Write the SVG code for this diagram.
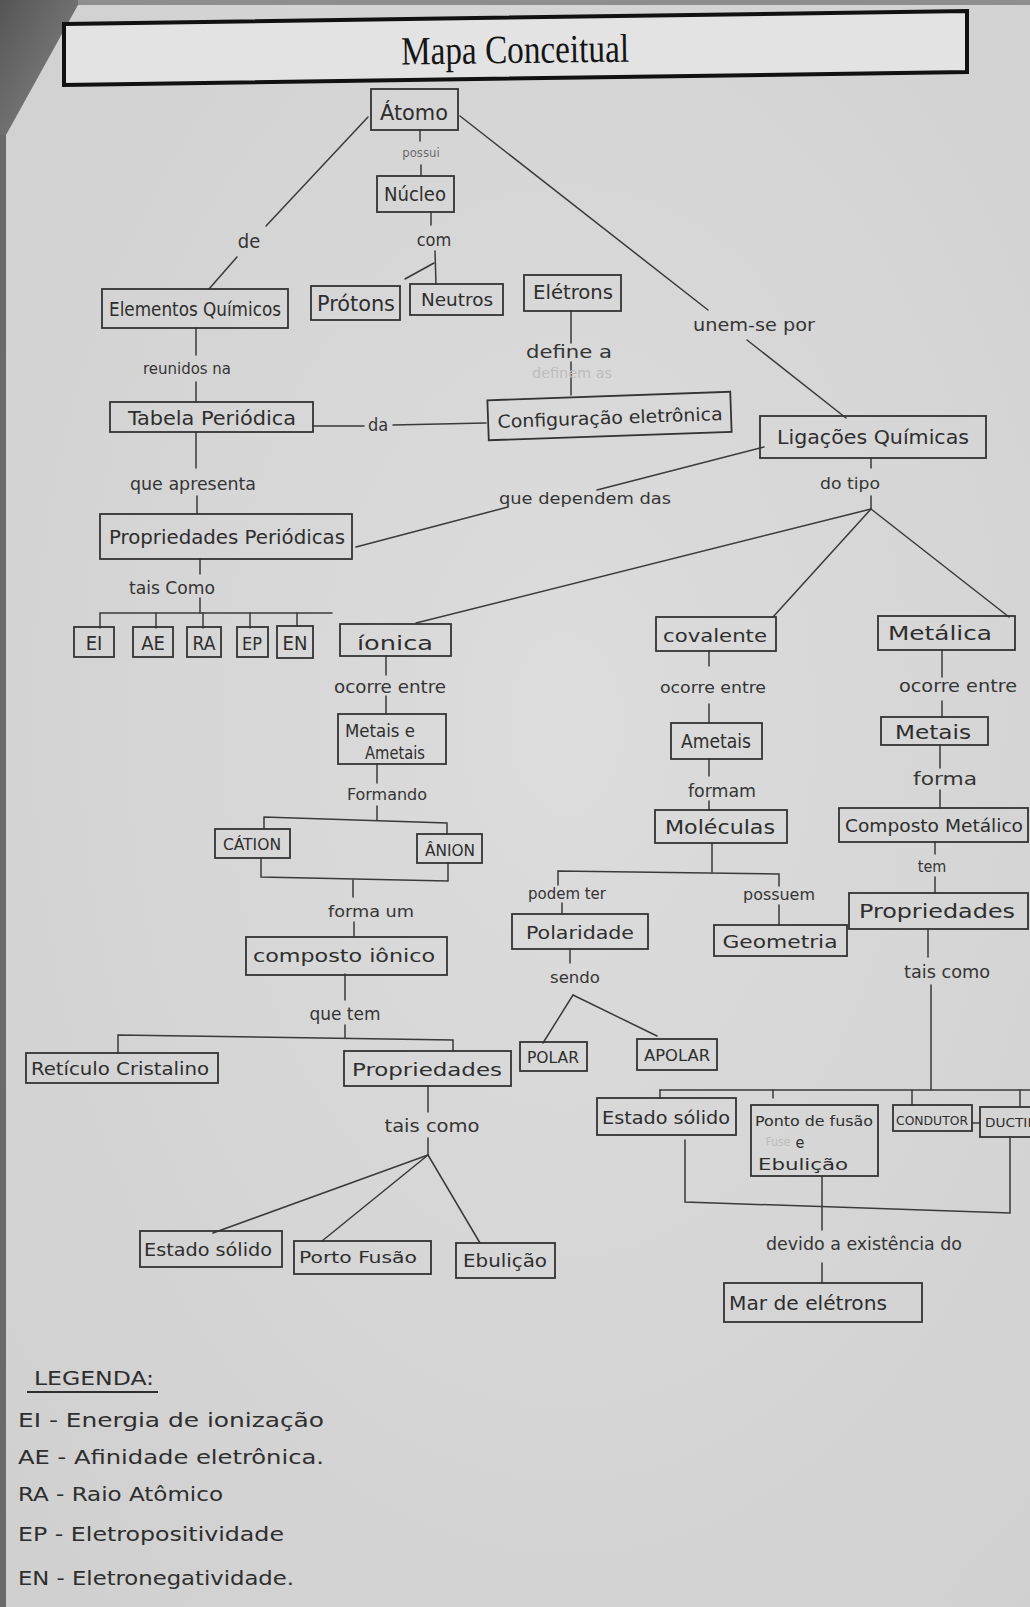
<svg xmlns="http://www.w3.org/2000/svg" width="1030" height="1607" viewBox="0 0 1030 1607">
  <defs>
    <radialGradient id="paper" cx="0.55" cy="0.45" r="0.8">
      <stop offset="0" stop-color="#dcdcdc"/>
      <stop offset="1" stop-color="#cfcfcf"/>
    </radialGradient>
    <linearGradient id="shadow" x1="0" y1="0" x2="1" y2="1">
      <stop offset="0" stop-color="#555"/>
      <stop offset="1" stop-color="#8a8a8a"/>
    </linearGradient>
    <style>
      .box { fill: none; stroke: #333; stroke-width: 1.8; }
      .ln { fill: none; stroke: #3a3a3a; stroke-width: 1.5; stroke-linecap: round; }
      .t { font-family: "Liberation Sans Narrow", "DejaVu Sans Condensed", "Liberation Sans", sans-serif; fill: #2e2e2e; text-anchor: middle; }
      .lb { font-family: "Liberation Sans Narrow", "DejaVu Sans Condensed", "Liberation Sans", sans-serif; fill: #353535; text-anchor: middle; }
      .ghost { font-family: "Liberation Sans Narrow", "DejaVu Sans Condensed", "Liberation Sans", sans-serif; fill: #bdbdbd; text-anchor: middle; }
      .leg { font-family: "Liberation Sans Narrow", "DejaVu Sans Condensed", "Liberation Sans", sans-serif; fill: #2e2e2e; font-size: 20px; }
    </style>
  </defs>

  <!-- paper sheet and the photographed background round it -->
  <rect x="0" y="0" width="1030" height="1607" fill="url(#paper)"/>
  <rect x="0" y="0" width="1030" height="5" fill="#8e8e8e"/>
  <polygon points="0,0 78,0 78,5 6,135 0,140" fill="url(#shadow)"/>
  <rect x="0" y="135" width="6" height="1472" fill="#6a6a6a"/>

  <!-- title banner -->
  <g id="title">
    <polygon points="64,24 967,11 967,72 64,85" fill="#e3e3e3" stroke="#111" stroke-width="4"/>
    <text x="515" y="63" font-family="Liberation Serif, serif" font-size="40" fill="#151515" text-anchor="middle" textLength="228" lengthAdjust="spacingAndGlyphs" transform="rotate(-0.7 515 50)">Mapa Conceitual</text>
  </g>

  <!-- connectors -->
  <g id="connectors">
    <!-- Átomo branches -->
    <line class="ln" x1="368" y1="117" x2="266" y2="226"/>
    <line class="ln" x1="237" y1="257" x2="209" y2="289"/>
    <line class="ln" x1="420" y1="130" x2="420" y2="141"/>
    <line class="ln" x1="421" y1="165" x2="421" y2="176"/>
    <line class="ln" x1="460" y1="116" x2="708" y2="310"/>
    <line class="ln" x1="747" y1="340" x2="846" y2="418"/>
    <!-- Núcleo to Prótons / Neutros -->
    <line class="ln" x1="431" y1="212" x2="431" y2="225"/>
    <line class="ln" x1="435" y1="251" x2="436" y2="284"/>
    <line class="ln" x1="434" y1="263" x2="405" y2="279"/>
    <!-- Elementos / Tabela / Propriedades Periódicas -->
    <line class="ln" x1="196" y1="328" x2="196" y2="355"/>
    <line class="ln" x1="196" y1="382" x2="196" y2="402"/>
    <line class="ln" x1="196" y1="432" x2="196" y2="468"/>
    <line class="ln" x1="197" y1="496" x2="197" y2="514"/>
    <line class="ln" x1="313" y1="426" x2="364" y2="426"/>
    <line class="ln" x1="393" y1="425" x2="486" y2="423"/>
    <line class="ln" x1="571" y1="311" x2="571" y2="343"/>
    <line class="ln" x1="571" y1="362" x2="571" y2="395"/>
    <line class="ln" x1="764" y1="447" x2="597" y2="490"/>
    <line class="ln" x1="508" y1="507" x2="356" y2="547"/>
    <!-- tais como bracket for EI..EN -->
    <line class="ln" x1="200" y1="559" x2="200" y2="574"/>
    <line class="ln" x1="200" y1="598" x2="200" y2="613"/>
    <polyline class="ln" points="100,628 100,613 332,613"/>
    <line class="ln" x1="156" y1="613" x2="156" y2="628"/>
    <line class="ln" x1="203" y1="613" x2="203" y2="628"/>
    <line class="ln" x1="250" y1="613" x2="250" y2="628"/>
    <line class="ln" x1="297" y1="613" x2="297" y2="626"/>
    <!-- Ligações: do tipo -->
    <line class="ln" x1="871" y1="458" x2="871" y2="468"/>
    <line class="ln" x1="871" y1="496" x2="871" y2="509"/>
    <line class="ln" x1="871" y1="509" x2="416" y2="623" stroke-width="1.8"/>
    <line class="ln" x1="871" y1="509" x2="773" y2="617"/>
    <line class="ln" x1="871" y1="509" x2="1009" y2="617"/>
    <!-- ionic column -->
    <line class="ln" x1="386" y1="656" x2="386" y2="675"/>
    <line class="ln" x1="386" y1="696" x2="386" y2="714"/>
    <line class="ln" x1="377" y1="764" x2="377" y2="783"/>
    <line class="ln" x1="377" y1="806" x2="377" y2="820"/>
    <polyline class="ln" points="264,829 264,817 447,823 447,834"/>
    <polyline class="ln" points="261,858 261,877 448,881 448,863"/>
    <line class="ln" x1="353" y1="880" x2="353" y2="897"/>
    <line class="ln" x1="354" y1="922" x2="354" y2="936"/>
    <line class="ln" x1="345" y1="974" x2="345" y2="1000"/>
    <line class="ln" x1="345" y1="1025" x2="345" y2="1038"/>
    <polyline class="ln" points="118,1053 118,1035 453,1040 453,1051"/>
    <line class="ln" x1="428" y1="1086" x2="428" y2="1112"/>
    <line class="ln" x1="428" y1="1138" x2="428" y2="1155"/>
    <line class="ln" x1="428" y1="1155" x2="213" y2="1233"/>
    <line class="ln" x1="428" y1="1155" x2="322" y2="1241"/>
    <line class="ln" x1="428" y1="1155" x2="480" y2="1243"/>
    <!-- covalent column -->
    <line class="ln" x1="709" y1="651" x2="709" y2="666"/>
    <line class="ln" x1="709" y1="704" x2="709" y2="723"/>
    <line class="ln" x1="709" y1="759" x2="709" y2="776"/>
    <line class="ln" x1="709" y1="801" x2="709" y2="810"/>
    <line class="ln" x1="712" y1="843" x2="712" y2="872"/>
    <polyline class="ln" points="558,885 558,871 779,874 779,886"/>
    <line class="ln" x1="562" y1="903" x2="562" y2="914"/>
    <line class="ln" x1="779" y1="905" x2="779" y2="925"/>
    <line class="ln" x1="570" y1="949" x2="570" y2="963"/>
    <line class="ln" x1="573" y1="995" x2="543" y2="1043"/>
    <line class="ln" x1="573" y1="995" x2="657" y2="1036"/>
    <!-- metallic column -->
    <line class="ln" x1="942" y1="650" x2="942" y2="677"/>
    <line class="ln" x1="942" y1="701" x2="942" y2="717"/>
    <line class="ln" x1="940" y1="745" x2="940" y2="768"/>
    <line class="ln" x1="940" y1="790" x2="940" y2="808"/>
    <line class="ln" x1="935" y1="842" x2="935" y2="854"/>
    <line class="ln" x1="935" y1="877" x2="935" y2="893"/>
    <line class="ln" x1="928" y1="929" x2="928" y2="957"/>
    <line class="ln" x1="931" y1="985" x2="931" y2="1090"/>
    <line class="ln" x1="660" y1="1090" x2="1030" y2="1090"/>
    <line class="ln" x1="660" y1="1090" x2="660" y2="1098"/>
    <line class="ln" x1="773" y1="1090" x2="773" y2="1098"/>
    <line class="ln" x1="912" y1="1090" x2="912" y2="1105"/>
    <line class="ln" x1="1020" y1="1090" x2="1020" y2="1107"/>
    <line class="ln" x1="972" y1="1123" x2="980" y2="1123"/>
    <polyline class="ln" points="685,1140 685,1202 1010,1213 1010,1138"/>
    <line class="ln" x1="822" y1="1176" x2="822" y2="1230"/>
    <line class="ln" x1="822" y1="1263" x2="822" y2="1283"/>
  </g>

  <!-- concept nodes -->
  <g id="atomo">
    <rect class="box" x="371" y="89" width="87" height="41"/>
    <text class="t" x="414" y="120" font-size="22" textLength="68" lengthAdjust="spacingAndGlyphs">Átomo</text>
  </g>
  <text class="lb" x="421" y="157" font-size="13" fill-opacity="0.7">possui</text>

  <g id="nucleo">
    <rect class="box" x="377" y="176" width="77" height="36"/>
    <text class="t" x="415" y="201" font-size="20" textLength="62" lengthAdjust="spacingAndGlyphs">Núcleo</text>
  </g>
  <text class="lb" x="434" y="246" font-size="18">com</text>
  <text class="lb" x="249" y="248" font-size="20">de</text>
  <text class="lb" x="754" y="331" font-size="17" textLength="122" lengthAdjust="spacingAndGlyphs">unem-se por</text>

  <g id="elementos">
    <rect class="box" x="102" y="289" width="186" height="39"/>
    <text class="t" x="195" y="316" font-size="19" textLength="172" lengthAdjust="spacingAndGlyphs">Elementos Químicos</text>
  </g>
  <g id="protons">
    <rect class="box" x="311" y="286" width="89" height="34"/>
    <text class="t" x="356" y="311" font-size="21" textLength="78" lengthAdjust="spacingAndGlyphs">Prótons</text>
  </g>
  <g id="neutros">
    <rect class="box" x="410" y="284" width="93" height="31"/>
    <text class="t" x="457" y="306" font-size="18" textLength="72" lengthAdjust="spacingAndGlyphs">Neutros</text>
  </g>
  <g id="eletrons">
    <rect class="box" x="524" y="275" width="97" height="36"/>
    <text class="t" x="573" y="299" font-size="20" textLength="80" lengthAdjust="spacingAndGlyphs">Elétrons</text>
  </g>

  <text class="lb" x="187" y="374" font-size="16" textLength="88" lengthAdjust="spacingAndGlyphs">reunidos na</text>
  <text class="lb" x="569" y="358" font-size="18" textLength="86" lengthAdjust="spacingAndGlyphs">define a</text>
  <text class="ghost" x="572" y="378" font-size="14" textLength="80" lengthAdjust="spacingAndGlyphs">definem as</text>

  <g id="tabela">
    <rect class="box" x="110" y="402" width="203" height="30"/>
    <text class="t" x="212" y="425" font-size="19" textLength="168" lengthAdjust="spacingAndGlyphs">Tabela Periódica</text>
  </g>
  <text class="lb" x="378" y="431" font-size="18">da</text>

  <g id="configuracao" transform="rotate(-2 610 416)">
    <rect class="box" x="488" y="396" width="243" height="40"/>
    <text class="t" x="610" y="424" font-size="18" textLength="225" lengthAdjust="spacingAndGlyphs">Configuração eletrônica</text>
  </g>

  <g id="ligacoes">
    <rect class="box" x="760" y="416" width="226" height="42"/>
    <text class="t" x="873" y="444" font-size="19" textLength="192" lengthAdjust="spacingAndGlyphs">Ligações Químicas</text>
  </g>
  <text class="lb" x="850" y="489" font-size="16" textLength="60" lengthAdjust="spacingAndGlyphs">do tipo</text>

  <text class="lb" x="193" y="490" font-size="17" textLength="126" lengthAdjust="spacingAndGlyphs">que apresenta</text>
  <text class="lb" x="585" y="504" font-size="16" textLength="172" lengthAdjust="spacingAndGlyphs">que dependem das</text>

  <g id="propriedades-periodicas">
    <rect class="box" x="100" y="514" width="252" height="45"/>
    <text class="t" x="227" y="544" font-size="20" textLength="236" lengthAdjust="spacingAndGlyphs">Propriedades Periódicas</text>
  </g>
  <text class="lb" x="172" y="594" font-size="17" textLength="86" lengthAdjust="spacingAndGlyphs">tais Como</text>

  <g id="ei">
    <rect class="box" x="74" y="627" width="40" height="30"/>
    <text class="t" x="94" y="650" font-size="20">EI</text>
  </g>
  <g id="ae">
    <rect class="box" x="133" y="627" width="40" height="30"/>
    <text class="t" x="153" y="650" font-size="20">AE</text>
  </g>
  <g id="ra">
    <rect class="box" x="187" y="627" width="34" height="30"/>
    <text class="t" x="204" y="650" font-size="19">RA</text>
  </g>
  <g id="ep">
    <rect class="box" x="237" y="627" width="31" height="30"/>
    <text class="t" x="252" y="650" font-size="18">EP</text>
  </g>
  <g id="en">
    <rect class="box" x="277" y="626" width="36" height="32"/>
    <text class="t" x="295" y="650" font-size="20">EN</text>
  </g>

  <!-- ionic bond branch -->
  <g id="ionica">
    <rect class="box" x="340" y="624" width="111" height="32"/>
    <text class="t" x="395" y="650" font-size="20" textLength="76" lengthAdjust="spacingAndGlyphs">íonica</text>
  </g>
  <text class="lb" x="390" y="693" font-size="17" textLength="112" lengthAdjust="spacingAndGlyphs">ocorre entre</text>
  <g id="metais-ametais">
    <rect class="box" x="338" y="714" width="108" height="50"/>
    <text class="t" x="380" y="737" font-size="18" textLength="70" lengthAdjust="spacingAndGlyphs">Metais e</text>
    <text class="t" x="395" y="759" font-size="18" textLength="60" lengthAdjust="spacingAndGlyphs">Ametais</text>
  </g>
  <text class="lb" x="387" y="800" font-size="16" textLength="80" lengthAdjust="spacingAndGlyphs">Formando</text>
  <g id="cation">
    <rect class="box" x="215" y="829" width="75" height="29"/>
    <text class="t" x="252" y="850" font-size="15" textLength="58" lengthAdjust="spacingAndGlyphs">CÁTION</text>
  </g>
  <g id="anion">
    <rect class="box" x="417" y="834" width="65" height="29"/>
    <text class="t" x="450" y="856" font-size="15" textLength="50" lengthAdjust="spacingAndGlyphs">ÂNION</text>
  </g>
  <text class="lb" x="371" y="917" font-size="16" textLength="86" lengthAdjust="spacingAndGlyphs">forma um</text>
  <g id="composto-ionico">
    <rect class="box" x="246" y="937" width="201" height="38"/>
    <text class="t" x="344" y="962" font-size="18" textLength="182" lengthAdjust="spacingAndGlyphs">composto iônico</text>
  </g>
  <text class="lb" x="345" y="1020" font-size="17" textLength="71" lengthAdjust="spacingAndGlyphs">que tem</text>
  <g id="reticulo">
    <rect class="box" x="26" y="1053" width="192" height="30"/>
    <text class="t" x="120" y="1075" font-size="17" textLength="178" lengthAdjust="spacingAndGlyphs">Retículo Cristalino</text>
  </g>
  <g id="propriedades-ionico">
    <rect class="box" x="344" y="1051" width="167" height="35"/>
    <text class="t" x="427" y="1076" font-size="18" textLength="150" lengthAdjust="spacingAndGlyphs">Propriedades</text>
  </g>
  <text class="lb" x="432" y="1132" font-size="17" textLength="95" lengthAdjust="spacingAndGlyphs">tais como</text>
  <g id="estado-solido-ionico">
    <rect class="box" x="140" y="1231" width="142" height="36"/>
    <text class="t" x="208" y="1256" font-size="17" textLength="128" lengthAdjust="spacingAndGlyphs">Estado sólido</text>
  </g>
  <g id="porto-fusao">
    <rect class="box" x="294" y="1241" width="137" height="33"/>
    <text class="t" x="358" y="1263" font-size="15" textLength="118" lengthAdjust="spacingAndGlyphs">Porto Fusão</text>
  </g>
  <g id="ebulicao-ionico">
    <rect class="box" x="456" y="1243" width="99" height="35"/>
    <text class="t" x="505" y="1267" font-size="18" textLength="84" lengthAdjust="spacingAndGlyphs">Ebulição</text>
  </g>

  <!-- covalent bond branch -->
  <g id="covalente">
    <rect class="box" x="656" y="617" width="120" height="34"/>
    <text class="t" x="715" y="642" font-size="18" textLength="104" lengthAdjust="spacingAndGlyphs">covalente</text>
  </g>
  <text class="lb" x="713" y="693" font-size="16" textLength="106" lengthAdjust="spacingAndGlyphs">ocorre entre</text>
  <g id="ametais">
    <rect class="box" x="671" y="723" width="91" height="36"/>
    <text class="t" x="716" y="748" font-size="19" textLength="70" lengthAdjust="spacingAndGlyphs">Ametais</text>
  </g>
  <text class="lb" x="722" y="797" font-size="17" textLength="68" lengthAdjust="spacingAndGlyphs">formam</text>
  <g id="moleculas">
    <rect class="box" x="655" y="810" width="132" height="33"/>
    <text class="t" x="720" y="834" font-size="19" textLength="110" lengthAdjust="spacingAndGlyphs">Moléculas</text>
  </g>
  <text class="lb" x="567" y="899" font-size="15" textLength="78" lengthAdjust="spacingAndGlyphs">podem ter</text>
  <text class="lb" x="779" y="900" font-size="15" textLength="72" lengthAdjust="spacingAndGlyphs">possuem</text>
  <g id="polaridade">
    <rect class="box" x="512" y="914" width="136" height="35"/>
    <text class="t" x="580" y="939" font-size="18" textLength="108" lengthAdjust="spacingAndGlyphs">Polaridade</text>
  </g>
  <g id="geometria">
    <rect class="box" x="714" y="925" width="133" height="31"/>
    <text class="t" x="780" y="948" font-size="18" textLength="115" lengthAdjust="spacingAndGlyphs">Geometria</text>
  </g>
  <text class="lb" x="575" y="983" font-size="16" textLength="50" lengthAdjust="spacingAndGlyphs">sendo</text>
  <g id="polar">
    <rect class="box" x="520" y="1042" width="67" height="29"/>
    <text class="t" x="553" y="1063" font-size="15" textLength="52" lengthAdjust="spacingAndGlyphs">POLAR</text>
  </g>
  <g id="apolar">
    <rect class="box" x="637" y="1039" width="80" height="31"/>
    <text class="t" x="677" y="1061" font-size="15" textLength="66" lengthAdjust="spacingAndGlyphs">APOLAR</text>
  </g>

  <!-- metallic bond branch -->
  <g id="metalica">
    <rect class="box" x="878" y="616" width="137" height="34"/>
    <text class="t" x="940" y="640" font-size="20" textLength="104" lengthAdjust="spacingAndGlyphs">Metálica</text>
  </g>
  <text class="lb" x="958" y="692" font-size="17" textLength="118" lengthAdjust="spacingAndGlyphs">ocorre entre</text>
  <g id="metais">
    <rect class="box" x="881" y="717" width="107" height="28"/>
    <text class="t" x="933" y="739" font-size="19" textLength="76" lengthAdjust="spacingAndGlyphs">Metais</text>
  </g>
  <text class="lb" x="945" y="785" font-size="17" textLength="64" lengthAdjust="spacingAndGlyphs">forma</text>
  <g id="composto-metalico">
    <rect class="box" x="839" y="808" width="189" height="34"/>
    <text class="t" x="934" y="832" font-size="17" textLength="178" lengthAdjust="spacingAndGlyphs">Composto Metálico</text>
  </g>
  <text class="lb" x="932" y="872" font-size="16">tem</text>
  <g id="propriedades-metalico">
    <rect class="box" x="849" y="893" width="179" height="36"/>
    <text class="t" x="937" y="918" font-size="19" textLength="156" lengthAdjust="spacingAndGlyphs">Propriedades</text>
  </g>
  <text class="lb" x="947" y="978" font-size="17" textLength="86" lengthAdjust="spacingAndGlyphs">tais como</text>
  <g id="estado-solido-metalico">
    <rect class="box" x="597" y="1098" width="139" height="37"/>
    <text class="t" x="666" y="1124" font-size="17" textLength="128" lengthAdjust="spacingAndGlyphs">Estado sólido</text>
  </g>
  <g id="ponto-fusao-ebulicao">
    <rect class="box" x="751" y="1105" width="127" height="71"/>
    <text class="t" x="814" y="1126" font-size="14" textLength="118" lengthAdjust="spacingAndGlyphs">Ponto de fusão</text>
    <text class="ghost" x="778" y="1146" font-size="12">Fuse</text>
    <text class="t" x="800" y="1148" font-size="16">e</text>
    <text class="t" x="803" y="1170" font-size="16" textLength="90" lengthAdjust="spacingAndGlyphs">Ebulição</text>
  </g>
  <g id="condutor">
    <rect class="box" x="893" y="1105" width="79" height="26"/>
    <text class="t" x="932" y="1125" font-size="13" textLength="72" lengthAdjust="spacingAndGlyphs">CONDUTOR</text>
  </g>
  <g id="ductil">
    <rect class="box" x="980" y="1107" width="60" height="30"/>
    <text class="t" x="1010" y="1127" font-size="13" textLength="50" lengthAdjust="spacingAndGlyphs">DUCTIL</text>
  </g>
  <text class="lb" x="864" y="1250" font-size="17" textLength="196" lengthAdjust="spacingAndGlyphs">devido a existência do</text>
  <g id="mar-eletrons">
    <rect class="box" x="724" y="1283" width="198" height="39"/>
    <text class="t" x="808" y="1310" font-size="19" textLength="158" lengthAdjust="spacingAndGlyphs">Mar de elétrons</text>
  </g>

  <!-- legend -->
  <g id="legenda">
    <text class="leg" x="34" y="1385" font-size="22" textLength="120" lengthAdjust="spacingAndGlyphs">LEGENDA:</text>
    <line x1="27" y1="1392" x2="158" y2="1392" stroke="#2e2e2e" stroke-width="2"/>
    <text class="leg" x="18" y="1427" textLength="306" lengthAdjust="spacingAndGlyphs">EI - Energia de ionização</text>
    <text class="leg" x="18" y="1464" textLength="306" lengthAdjust="spacingAndGlyphs">AE - Afinidade eletrônica.</text>
    <text class="leg" x="18" y="1501" textLength="205" lengthAdjust="spacingAndGlyphs">RA - Raio Atômico</text>
    <text class="leg" x="18" y="1541" textLength="266" lengthAdjust="spacingAndGlyphs">EP - Eletropositividade</text>
    <text class="leg" x="18" y="1585" textLength="276" lengthAdjust="spacingAndGlyphs">EN - Eletronegatividade.</text>
  </g>
</svg>
